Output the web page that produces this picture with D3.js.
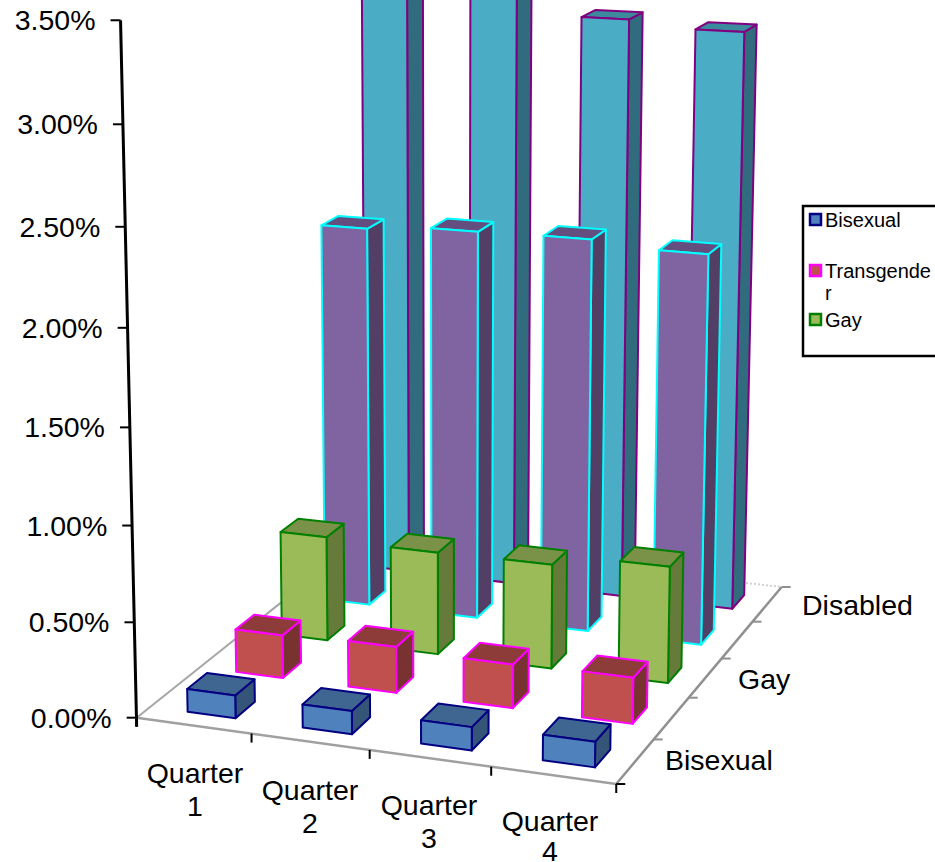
<!DOCTYPE html>
<html>
<head>
<meta charset="utf-8">
<script src="https://cdnjs.cloudflare.com/ajax/libs/d3/7.8.5/d3.min.js"></script>
<style>
  html, body { margin: 0; padding: 0; background: #fff; }
  svg { display: block; }
  text { font-family: "Liberation Sans", Arial, sans-serif; fill: #000; }
</style>
</head>
<body>
<div id="viz"></div>
<script>
// data
const quarters = ['Quarter 1', 'Quarter 2', 'Quarter 3', 'Quarter 4'];
const seriesNames = ['Bisexual', 'Transgender', 'Gay', 'Lesbian', 'Disabled'];
const bisexual = [0.12, 0.12, 0.12, 0.13];
const transgender = [0.23, 0.245, 0.23, 0.24];
const gay = [0.57, 0.555, 0.56, 0.62];
const lesbian = [2.095, 2.125, 2.13, 2.1];
const disabled = [3.4, 3.4, 3.18, 3.145];
const valueTicks = [0, 0.5, 1, 1.5, 2, 2.5, 3, 3.5];
const seriesLabels = ['Bisexual', 'Gay', 'Disabled'];
const legendNames = ['Bisexual', 'Transgender', 'Gay'];

// colors, one row per series
const fronts = ['#4F81BD', '#C0504D', '#9BBB59', '#8064A2', '#4BACC6'];
const tops = ['#3F6591', '#8E3C3A', '#7A9248', '#644E80', '#3C8A9E'];
const sides = ['#345578', '#783230', '#667A3A', '#533F66', '#316C7E'];
const strokes = ['#000080', '#FF00FF', '#008000', '#00FFFF', '#800080'];

const width = 935;
const height = 862;

let svg = d3.select('#viz').append('svg').attr('width', width).attr('height', height);

// scales into a unit box
let uScale = d3.scaleBand().domain(quarters).range([0, 1]).paddingInner(0.58).paddingOuter(0.29).align(0.565);
let wScale = d3.scaleBand().domain(seriesNames).range([0, 1]).paddingInner(0.6).paddingOuter(0.3).align(0.45);
let hScale = d3.scaleLinear().domain([0, 3.5]).range([0, 1]);

// camera: unit box point -> pixel, fitted to where the box sits in the picture
const camera = [
  [0, 0, 0, 137, 718], [0.25, 0, 0, 252, 736], [0.5, 0, 0, 369, 752], [0.75, 0, 0, 489, 769], [1, 0, 0, 612, 782],
  [1, 0.2, 0, 650, 738], [1, 0.4, 0, 688, 697], [1, 0.6, 0, 722, 658], [1, 0.8, 0, 755, 622], [1, 1, 0, 787, 587],
  [0, 1, 0, 358, 535],
  [0, 0, 1 / 7, 136, 623], [0, 0, 2 / 7, 134, 526], [0, 0, 3 / 7, 131, 428], [0, 0, 4 / 7, 129, 329],
  [0, 0, 5 / 7, 127, 228], [0, 0, 6 / 7, 124, 125], [0, 0, 1, 120, 21], [0, 0, 1, 120, 21],
  [1, 1, 1, 797, -37], [1, 0, 1, 627, 37], [0, 1, 1, 353, -70]
];

function solveCamera(pts) {
  const n = 11;
  let A = d3.range(n).map(() => new Array(n + 1).fill(0));
  function add(row, rhs) {
    for (let i = 0; i < n; i++) {
      for (let j = 0; j < n; j++) A[i][j] += row[i] * row[j];
      A[i][n] += row[i] * rhs;
    }
  }
  pts.forEach(([u, w, h, x, y]) => {
    add([u, w, h, 1, 0, 0, 0, 0, -x * u, -x * w, -x * h], x);
    add([0, 0, 0, 0, u, w, h, 1, -y * u, -y * w, -y * h], y);
  });
  for (let i = 0; i < n; i++) {
    let p = i;
    for (let r = i + 1; r < n; r++) if (Math.abs(A[r][i]) > Math.abs(A[p][i])) p = r;
    [A[i], A[p]] = [A[p], A[i]];
    for (let r = 0; r < n; r++) {
      if (r === i) continue;
      const f = A[r][i] / A[i][i];
      for (let c = i; c <= n; c++) A[r][c] -= f * A[i][c];
    }
  }
  return A.map((row, i) => row[n] / row[i]);
}

const m = solveCamera(camera);
function project(u, w, h) {
  const d = m[8] * u + m[9] * w + m[10] * h + 1;
  return [(m[0] * u + m[1] * w + m[2] * h + m[3]) / d, (m[4] * u + m[5] * w + m[6] * h + m[7]) / d];
}

let line = d3.line();
function face(pts) {
  return line(pts) + 'Z';
}

// floor edges
let floor = svg.append('g');
function edge(a, b, color, w, dash) {
  floor.append('line')
    .attr('x1', a[0]).attr('y1', a[1])
    .attr('x2', b[0]).attr('y2', b[1])
    .attr('stroke', color)
    .attr('stroke-width', w)
    .attr('stroke-dasharray', dash || null);
}
edge(project(0, 0, 0), project(0, 1, 0), '#a6a6a6', 2);
edge(project(0, 1, 0), project(1, 1, 0), '#d0d0d0', 2, '2 2');
edge(project(0, 0, 0), project(1, 0, 0), '#a0a0a0', 2.5);
edge(project(1, 0, 0), project(1, 1, 0), '#909090', 2.5);

// series ticks on the right edge
d3.range(seriesNames.length + 1).forEach((i) => {
  const p = project(1, i / seriesNames.length, 0);
  edge(p, [p[0] + 9, p[1]], i === 0 ? '#000' : '#909090', 2);
});

// quarter ticks on the front edge
d3.range(quarters.length + 1).forEach((i) => {
  const p = project(i / quarters.length, 0, 0);
  edge(p, [p[0], p[1] + 9], '#000', 2);
});

// bars, back row first
const allSeries = [bisexual, transgender, gay, lesbian, disabled];
let bars = svg.append('g');
d3.range(allSeries.length - 1, -1, -1).forEach((s) => {
  allSeries[s].forEach((v, c) => {
    const u0 = uScale(quarters[c]);
    const u1 = u0 + uScale.bandwidth();
    const w0 = wScale(seriesNames[s]);
    const w1 = w0 + wScale.bandwidth();
    const h = hScale(v);
    let g = bars.append('g')
      .attr('stroke', strokes[s])
      .attr('stroke-width', 2)
      .attr('stroke-linejoin', 'round');
    g.append('path')
      .attr('d', face([project(u1, w0, 0), project(u1, w1, 0), project(u1, w1, h), project(u1, w0, h)]))
      .attr('fill', sides[s]);
    g.append('path')
      .attr('d', face([project(u0, w0, h), project(u1, w0, h), project(u1, w1, h), project(u0, w1, h)]))
      .attr('fill', tops[s]);
    g.append('path')
      .attr('d', face([project(u0, w0, 0), project(u1, w0, 0), project(u1, w0, h), project(u0, w0, h)]))
      .attr('fill', fronts[s]);
  });
});

// value axis
let axisG = svg.append('g');
let base = project(0, 0, 0);
let top3d = project(0, 0, 1);
axisG.append('line')
  .attr('x1', base[0]).attr('y1', base[1] + 9)
  .attr('x2', top3d[0]).attr('y2', top3d[1])
  .attr('stroke', '#000')
  .attr('stroke-width', 3);
valueTicks.forEach((v) => {
  const p = project(0, 0, hScale(v));
  axisG.append('line')
    .attr('x1', p[0] - 10).attr('y1', p[1])
    .attr('x2', p[0]).attr('y2', p[1])
    .attr('stroke', '#000')
    .attr('stroke-width', 2);
  axisG.append('text')
    .attr('x', p[0] - 25)
    .attr('y', p[1] + 10)
    .attr('text-anchor', 'end')
    .attr('font-size', 28.5)
    .text(d3.format('.2%')(v / 100));
});

// quarter labels, wrapped on two lines
const quarterLabelPos = [[195, 783], [310, 800], [429, 815], [550, 831]];
quarters.forEach((q, i) => {
  const words = q.split(' ');
  let t = svg.append('text')
    .attr('text-anchor', 'middle')
    .attr('font-size', 28.5);
  words.forEach((word, k) => {
    t.append('tspan')
      .attr('x', quarterLabelPos[i][0])
      .attr('y', Math.min(quarterLabelPos[i][1] + k * 33, 861))
      .text(word);
  });
});

// series labels
const seriesLabelPos = [[665, 770], [738, 689], [802, 615]];
seriesLabels.forEach((name, i) => {
  svg.append('text')
    .attr('x', seriesLabelPos[i][0])
    .attr('y', seriesLabelPos[i][1])
    .attr('font-size', 28.5)
    .text(name);
});

// legend
svg.append('rect')
  .attr('x', 803).attr('y', 206)
  .attr('width', 140).attr('height', 150)
  .attr('fill', '#fff')
  .attr('stroke', '#000')
  .attr('stroke-width', 2.5);
const legendY = [220, 271, 320];
legendNames.forEach((name, i) => {
  svg.append('rect')
    .attr('x', 810).attr('y', legendY[i] - 6)
    .attr('width', 11).attr('height', 11)
    .attr('fill', fronts[i])
    .attr('stroke', strokes[i])
    .attr('stroke-width', 2.5);
  if (name === 'Transgender') {
    svg.append('text').attr('x', 825).attr('y', legendY[i] + 7).attr('font-size', 20).text('Transgende');
    svg.append('text').attr('x', 825).attr('y', legendY[i] + 29).attr('font-size', 20).text('r');
  } else {
    svg.append('text').attr('x', 825).attr('y', legendY[i] + 7).attr('font-size', 20).text(name);
  }
});
</script>
</body>
</html>
